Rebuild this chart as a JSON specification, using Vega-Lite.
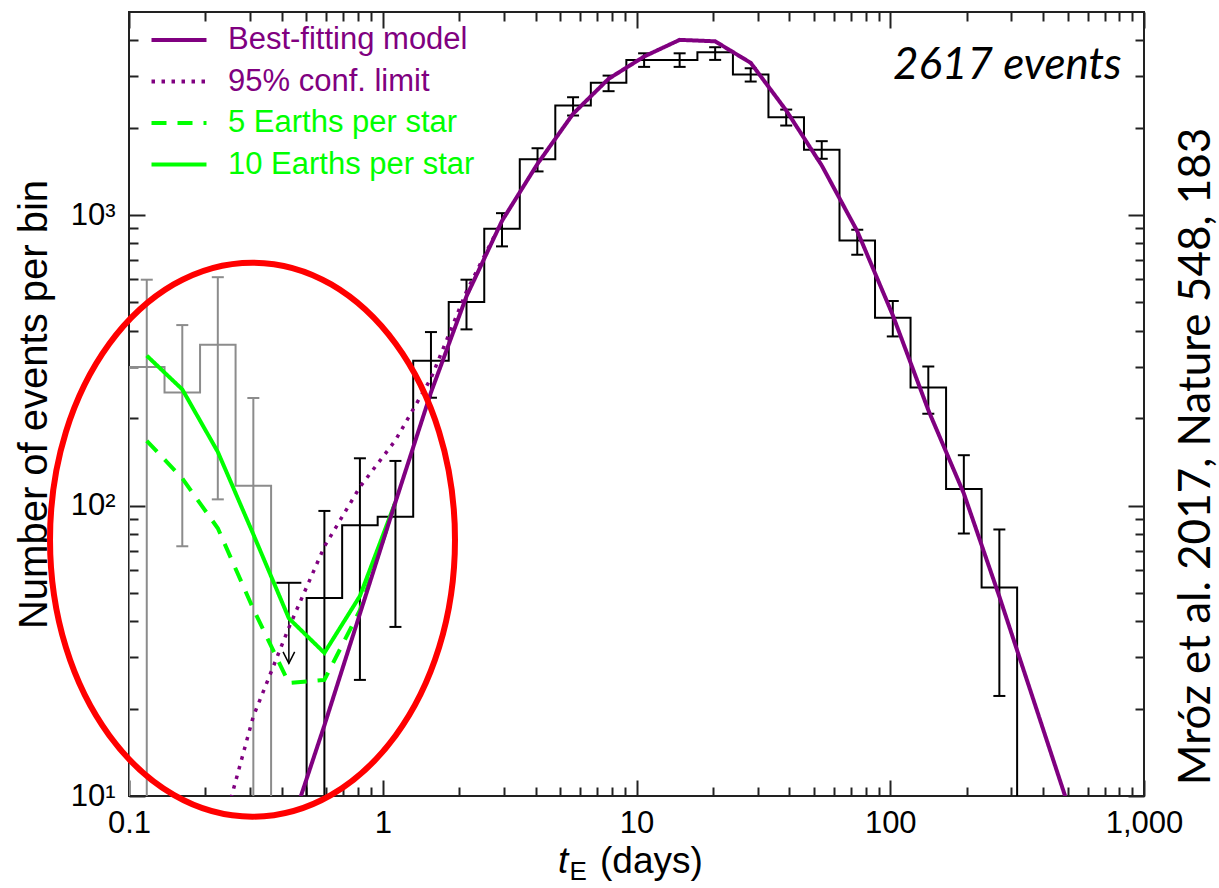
{
  "$schema": "https://vega.github.io/schema/vega-lite/v6.json",
  "width": 1015,
  "height": 784,
  "autosize": {"type": "none"},
  "padding": {"left": 129, "top": 12, "right": 75, "bottom": 92},
  "background": "white",
  "config": {
    "font": "Liberation Sans",
    "view": {"stroke": "#222222", "strokeWidth": 2},
    "axis": {"grid": false, "domain": false, "tickColor": "#222222", "tickWidth": 2, "labelColor": "#000000", "titleColor": "#000000", "labelFont": "Liberation Sans", "titleFont": "Liberation Sans", "titleFontWeight": "normal"},
    "legend": {"orient": "top-left", "title": null, "offset": 12, "padding": 0, "symbolOffset": 22, "symbolType": "M -2 0 L 2 0", "symbolSize": 756, "symbolStrokeWidth": 4, "labelFontSize": 31, "labelFont": "Liberation Sans", "labelOffset": 33, "labelLimit": 400, "rowPadding": 10.5}
  },
  "datasets": {
    "hist_gray": [
      {"t": 0.1, "n": 1}, {"t": 0.1, "n": 300}, {"t": 0.13804, "n": 245}, {"t": 0.19055, "n": 358}, {"t": 0.26303, "n": 117}, {"t": 0.36308, "n": 1}
    ],
    "hist_black": [
      {"t": 0.50119, "n": 1}, {"t": 0.50119, "n": 48}, {"t": 0.69183, "n": 85.5}, {"t": 0.95499, "n": 91.4}, {"t": 1.31826, "n": 315},
      {"t": 1.8197, "n": 502}, {"t": 2.51189, "n": 897}, {"t": 3.46737, "n": 1557}, {"t": 4.7863, "n": 2383}, {"t": 6.60693, "n": 2851},
      {"t": 9.12011, "n": 3420}, {"t": 12.5893, "n": 3420}, {"t": 17.378, "n": 3634}, {"t": 23.9883, "n": 3046}, {"t": 33.1131, "n": 2172},
      {"t": 45.7088, "n": 1677}, {"t": 63.0957, "n": 818}, {"t": 87.0964, "n": 443}, {"t": 120.226, "n": 255}, {"t": 165.959, "n": 114},
      {"t": 229.087, "n": 52.2}, {"t": 316.228, "n": 1}
    ],
    "err": [
      {"t": 0.11749, "lo": 1, "hi": 599, "g": "gray"},
      {"t": 0.16218, "lo": 72.4, "hi": 418, "g": "gray"},
      {"t": 0.22387, "lo": 105, "hi": 611, "g": "gray"},
      {"t": 0.30903, "lo": 1, "hi": 234.5, "g": "gray"},
      {"t": 0.58884, "lo": 1, "hi": 95.8, "g": "black"},
      {"t": 0.81283, "lo": 25.1, "hi": 145.4, "g": "black"},
      {"t": 1.12202, "lo": 38.2, "hi": 142.4, "g": "black"},
      {"t": 1.54882, "lo": 235, "hi": 395.5, "g": "black"},
      {"t": 2.13796, "lo": 404, "hi": 599, "g": "black"},
      {"t": 2.95121, "lo": 780, "hi": 1015, "g": "black"},
      {"t": 4.0738, "lo": 1413, "hi": 1698, "g": "black"},
      {"t": 5.62341, "lo": 2201, "hi": 2544, "g": "black"},
      {"t": 7.76247, "lo": 2669, "hi": 3020, "g": "black"},
      {"t": 10.7152, "lo": 3236, "hi": 3604, "g": "black"},
      {"t": 14.7911, "lo": 3236, "hi": 3604, "g": "black"},
      {"t": 20.4174, "lo": 3420, "hi": 3782, "g": "black"},
      {"t": 28.1838, "lo": 2881, "hi": 3201, "g": "black"},
      {"t": 38.9045, "lo": 2033, "hi": 2307, "g": "black"},
      {"t": 53.7032, "lo": 1562, "hi": 1796, "g": "black"},
      {"t": 74.131, "lo": 730, "hi": 890, "g": "black"},
      {"t": 102.329, "lo": 382, "hi": 506, "g": "black"},
      {"t": 141.254, "lo": 207, "hi": 301, "g": "black"},
      {"t": 194.984, "lo": 80.1, "hi": 149, "g": "black"},
      {"t": 269.153, "lo": 22.1, "hi": 82.7, "g": "black"}
    ],
    "upper": [{"t": 0.42658, "n": 54.2, "tip": 28.6}],
    "model": [
      {"s": "Best-fitting model", "t": 0.42658, "n": 7.5},
      {"s": "Best-fitting model", "t": 0.58884, "n": 17.5},
      {"s": "Best-fitting model", "t": 0.81283, "n": 42.4},
      {"s": "Best-fitting model", "t": 1.12202, "n": 102.7},
      {"s": "Best-fitting model", "t": 1.54882, "n": 245},
      {"s": "Best-fitting model", "t": 2.13796, "n": 525},
      {"s": "Best-fitting model", "t": 2.95121, "n": 955},
      {"s": "Best-fitting model", "t": 4.0738, "n": 1501},
      {"s": "Best-fitting model", "t": 5.62341, "n": 2231},
      {"s": "Best-fitting model", "t": 7.76247, "n": 2944},
      {"s": "Best-fitting model", "t": 10.7152, "n": 3513},
      {"s": "Best-fitting model", "t": 14.7911, "n": 4009},
      {"s": "Best-fitting model", "t": 20.4174, "n": 3963},
      {"s": "Best-fitting model", "t": 28.1838, "n": 3342},
      {"s": "Best-fitting model", "t": 38.9045, "n": 2291},
      {"s": "Best-fitting model", "t": 53.7032, "n": 1482},
      {"s": "Best-fitting model", "t": 74.131, "n": 880},
      {"s": "Best-fitting model", "t": 102.329, "n": 452},
      {"s": "Best-fitting model", "t": 141.254, "n": 213},
      {"s": "Best-fitting model", "t": 194.984, "n": 110},
      {"s": "Best-fitting model", "t": 269.153, "n": 48.6},
      {"s": "Best-fitting model", "t": 371.535, "n": 20.7},
      {"s": "Best-fitting model", "t": 512.861, "n": 8.8},
      {"s": "95% conf. limit", "t": 0.22387, "n": 6.7},
      {"s": "95% conf. limit", "t": 0.30903, "n": 18.8},
      {"s": "95% conf. limit", "t": 0.42658, "n": 38},
      {"s": "95% conf. limit", "t": 0.58884, "n": 72.2},
      {"s": "95% conf. limit", "t": 0.81283, "n": 115.8},
      {"s": "95% conf. limit", "t": 1.12202, "n": 167.7},
      {"s": "95% conf. limit", "t": 1.54882, "n": 274},
      {"s": "95% conf. limit", "t": 2.13796, "n": 546},
      {"s": "95% conf. limit", "t": 2.95121, "n": 955},
      {"s": "5 Earths per star", "t": 0.11749, "n": 167},
      {"s": "5 Earths per star", "t": 0.16218, "n": 124},
      {"s": "5 Earths per star", "t": 0.22387, "n": 83.5},
      {"s": "5 Earths per star", "t": 0.30903, "n": 44},
      {"s": "5 Earths per star", "t": 0.42658, "n": 24.5},
      {"s": "5 Earths per star", "t": 0.58884, "n": 25.1},
      {"s": "5 Earths per star", "t": 0.81283, "n": 43.6},
      {"s": "5 Earths per star", "t": 1.12202, "n": 102.7},
      {"s": "10 Earths per star", "t": 0.11749, "n": 328},
      {"s": "10 Earths per star", "t": 0.16218, "n": 251},
      {"s": "10 Earths per star", "t": 0.22387, "n": 153},
      {"s": "10 Earths per star", "t": 0.30903, "n": 79.6},
      {"s": "10 Earths per star", "t": 0.42658, "n": 40.9},
      {"s": "10 Earths per star", "t": 0.58884, "n": 31.1},
      {"s": "10 Earths per star", "t": 0.81283, "n": 48.8},
      {"s": "10 Earths per star", "t": 1.12202, "n": 102.7}
    ]
  },
  "resolve": {"axis": {"x": "independent", "y": "independent"}},
  "layer": [
    {
      "data": {"name": "hist_gray"},
      "mark": {"type": "line", "interpolate": "step-after", "color": "#8c8c8c", "strokeWidth": 2, "clip": true},
      "encoding": {
        "x": {"field": "t", "type": "quantitative", "scale": {"type": "log", "domain": [0.1, 1000], "nice": false},
          "axis": {"orient": "bottom", "values": [0.1, 1, 10, 100, 1000], "format": ",~g", "ticks": false, "tickSize": 0, "labelFontSize": 31, "labelPadding": 12, "labelFlush": false, "labelOverlap": false, "title": null}},
        "y": {"field": "n", "type": "quantitative", "scale": {"type": "log", "domain": [10, 5000], "nice": false},
          "axis": {"orient": "left", "values": [10, 100, 1000], "labelExpr": "datum.value < 50 ? '10¹' : datum.value < 500 ? '10²' : '10³'", "ticks": false, "tickSize": 0, "labelFontSize": 31, "labelPadding": 14, "labelFlush": false, "labelOverlap": false, "title": "Number of events per bin", "titleFontSize": 40, "titlePadding": 16}}
      }
    },
    {
      "data": {"name": "hist_black"},
      "mark": {"type": "line", "interpolate": "step-after", "color": "#000000", "strokeWidth": 2, "clip": true},
      "encoding": {
        "x": {"field": "t", "type": "quantitative", "scale": {"type": "log", "domain": [0.1, 1000], "nice": false},
          "axis": {"orient": "bottom", "values": [0.1, 1, 10, 100, 1000], "labels": false, "tickSize": -16, "title": null}},
        "y": {"field": "n", "type": "quantitative", "scale": {"type": "log", "domain": [10, 5000], "nice": false},
          "axis": {"orient": "left", "values": [10, 100, 1000], "labels": false, "tickSize": -16, "title": null}}
      }
    },
    {
      "data": {"name": "err"},
      "mark": {"type": "rule", "strokeWidth": 2, "clip": true},
      "encoding": {
        "x": {"field": "t", "type": "quantitative", "scale": {"type": "log", "domain": [0.1, 1000], "nice": false},
          "axis": {"orient": "bottom", "values": [0.2, 0.3, 0.4, 0.5, 0.6, 0.7, 0.8, 0.9, 2, 3, 4, 5, 6, 7, 8, 9, 20, 30, 40, 50, 60, 70, 80, 90, 200, 300, 400, 500, 600, 700, 800, 900], "labels": false, "tickSize": -9, "title": null}},
        "y": {"field": "lo", "type": "quantitative", "scale": {"type": "log", "domain": [10, 5000], "nice": false},
          "axis": {"orient": "left", "values": [20, 30, 40, 50, 60, 70, 80, 90, 200, 300, 400, 500, 600, 700, 800, 900, 2000, 3000, 4000], "labels": false, "tickSize": -9, "title": null}},
        "y2": {"field": "hi"},
        "stroke": {"field": "g", "type": "nominal", "scale": {"domain": ["gray", "black"], "range": ["#8c8c8c", "#000000"]}, "legend": null}
      }
    },
    {
      "data": {"name": "err"},
      "mark": {"type": "point", "shape": "stroke", "size": 144, "strokeWidth": 2, "filled": false, "opacity": 1, "clip": true},
      "encoding": {
        "x": {"field": "t", "type": "quantitative", "scale": {"type": "log", "domain": [0.1, 1000], "nice": false},
          "axis": {"orient": "top", "values": [0.1, 1, 10, 100, 1000], "labels": false, "tickSize": -16, "title": null}},
        "y": {"field": "hi", "type": "quantitative", "scale": {"type": "log", "domain": [10, 5000], "nice": false},
          "axis": {"orient": "right", "values": [10, 100, 1000], "labels": false, "tickSize": -16, "title": "Mróz et al. 2017, Nature 548, 183", "titleFont": "Lato", "titleFontSize": 44, "titleAngle": 270, "titleBaseline": "top", "titlePadding": 29, "titleY": 444}},
        "stroke": {"field": "g", "type": "nominal", "scale": {"domain": ["gray", "black"], "range": ["#8c8c8c", "#000000"]}, "legend": null}
      }
    },
    {
      "data": {"name": "err"},
      "mark": {"type": "point", "shape": "stroke", "size": 144, "strokeWidth": 2, "filled": false, "opacity": 1, "clip": true},
      "encoding": {
        "x": {"field": "t", "type": "quantitative", "scale": {"type": "log", "domain": [0.1, 1000], "nice": false},
          "axis": {"orient": "top", "values": [0.2, 0.3, 0.4, 0.5, 0.6, 0.7, 0.8, 0.9, 2, 3, 4, 5, 6, 7, 8, 9, 20, 30, 40, 50, 60, 70, 80, 90, 200, 300, 400, 500, 600, 700, 800, 900], "labels": false, "tickSize": -9, "title": null}},
        "y": {"field": "lo", "type": "quantitative", "scale": {"type": "log", "domain": [10, 5000], "nice": false},
          "axis": {"orient": "right", "values": [20, 30, 40, 50, 60, 70, 80, 90, 200, 300, 400, 500, 600, 700, 800, 900, 2000, 3000, 4000], "labels": false, "tickSize": -9, "title": null}},
        "stroke": {"field": "g", "type": "nominal", "scale": {"domain": ["gray", "black"], "range": ["#8c8c8c", "#000000"]}, "legend": null}
      }
    },
    {
      "data": {"name": "upper"},
      "mark": {"type": "point", "shape": "stroke", "size": 625, "strokeWidth": 2, "filled": false, "opacity": 1, "color": "#000000"},
      "encoding": {
        "x": {"field": "t", "type": "quantitative", "scale": {"type": "log", "domain": [0.1, 1000], "nice": false}, "axis": null},
        "y": {"field": "n", "type": "quantitative", "scale": {"type": "log", "domain": [10, 5000], "nice": false}, "axis": null}
      }
    },
    {
      "data": {"name": "upper"},
      "mark": {"type": "rule", "strokeWidth": 1.5, "color": "#000000"},
      "encoding": {
        "x": {"field": "t", "type": "quantitative", "scale": {"type": "log", "domain": [0.1, 1000], "nice": false}, "axis": null},
        "y": {"field": "n", "type": "quantitative", "scale": {"type": "log", "domain": [10, 5000], "nice": false}, "axis": null},
        "y2": {"field": "tip"}
      }
    },
    {
      "data": {"name": "upper"},
      "mark": {"type": "point", "shape": "M -1 -2 L 0 0 L 1 -2", "size": 135, "strokeWidth": 1.5, "filled": false, "opacity": 1, "color": "#000000"},
      "encoding": {
        "x": {"field": "t", "type": "quantitative", "scale": {"type": "log", "domain": [0.1, 1000], "nice": false}, "axis": null},
        "y": {"field": "tip", "type": "quantitative", "scale": {"type": "log", "domain": [10, 5000], "nice": false}, "axis": null}
      }
    },
    {
      "data": {"name": "model"},
      "transform": [{"filter": "datum.s == '95% conf. limit'"}],
      "mark": {"type": "line", "strokeWidth": 3.5, "clip": true},
      "encoding": {
        "x": {"field": "t", "type": "quantitative", "scale": {"type": "log", "domain": [0.1, 1000], "nice": false}, "axis": null},
        "y": {"field": "n", "type": "quantitative", "scale": {"type": "log", "domain": [10, 5000], "nice": false}, "axis": null},
        "color": {"field": "s", "type": "nominal", "scale": {"domain": ["Best-fitting model", "95% conf. limit", "5 Earths per star", "10 Earths per star"], "range": ["#800080", "#800080", "#00ff00", "#00ff00"]},
          "legend": {"labelColor": {"expr": "indexof(datum.label, 'Earths') >= 0 ? '#00ff00' : '#800080'"}}},
        "strokeDash": {"field": "s", "type": "nominal", "scale": {"domain": ["Best-fitting model", "95% conf. limit", "5 Earths per star", "10 Earths per star"], "range": [[1, 0], [3.5, 6.5], [15, 11], [1, 0]]},
          "legend": {"labelColor": {"expr": "indexof(datum.label, 'Earths') >= 0 ? '#00ff00' : '#800080'"}}}
      }
    },
    {
      "data": {"name": "model"},
      "transform": [{"filter": "datum.s == '5 Earths per star' || datum.s == '10 Earths per star'"}],
      "mark": {"type": "line", "strokeWidth": 4, "clip": true},
      "encoding": {
        "x": {"field": "t", "type": "quantitative", "scale": {"type": "log", "domain": [0.1, 1000], "nice": false}, "axis": null},
        "y": {"field": "n", "type": "quantitative", "scale": {"type": "log", "domain": [10, 5000], "nice": false}, "axis": null},
        "color": {"field": "s", "type": "nominal", "scale": {"domain": ["Best-fitting model", "95% conf. limit", "5 Earths per star", "10 Earths per star"], "range": ["#800080", "#800080", "#00ff00", "#00ff00"]},
          "legend": {"labelColor": {"expr": "indexof(datum.label, 'Earths') >= 0 ? '#00ff00' : '#800080'"}}},
        "strokeDash": {"field": "s", "type": "nominal", "scale": {"domain": ["Best-fitting model", "95% conf. limit", "5 Earths per star", "10 Earths per star"], "range": [[1, 0], [3.5, 6.5], [15, 11], [1, 0]]},
          "legend": {"labelColor": {"expr": "indexof(datum.label, 'Earths') >= 0 ? '#00ff00' : '#800080'"}}}
      }
    },
    {
      "data": {"name": "model"},
      "transform": [{"filter": "datum.s == 'Best-fitting model'"}],
      "mark": {"type": "line", "strokeWidth": 4, "clip": true},
      "encoding": {
        "x": {"field": "t", "type": "quantitative", "scale": {"type": "log", "domain": [0.1, 1000], "nice": false}, "axis": null},
        "y": {"field": "n", "type": "quantitative", "scale": {"type": "log", "domain": [10, 5000], "nice": false}, "axis": null},
        "color": {"field": "s", "type": "nominal", "scale": {"domain": ["Best-fitting model", "95% conf. limit", "5 Earths per star", "10 Earths per star"], "range": ["#800080", "#800080", "#00ff00", "#00ff00"]},
          "legend": {"labelColor": {"expr": "indexof(datum.label, 'Earths') >= 0 ? '#00ff00' : '#800080'"}}},
        "strokeDash": {"field": "s", "type": "nominal", "scale": {"domain": ["Best-fitting model", "95% conf. limit", "5 Earths per star", "10 Earths per star"], "range": [[1, 0], [3.5, 6.5], [15, 11], [1, 0]]},
          "legend": {"labelColor": {"expr": "indexof(datum.label, 'Earths') >= 0 ? '#00ff00' : '#800080'"}}}
      }
    },
    {
      "data": {"values": [{"label": "2617 events"}]},
      "mark": {"type": "text", "font": "Lato", "fontStyle": "italic", "fontSize": 44, "align": "right", "baseline": "alphabetic", "color": "#000000"},
      "encoding": {
        "x": {"datum": 817, "type": "quantitative", "scale": {"type": "log", "domain": [0.1, 1000], "nice": false}, "axis": null},
        "y": {"datum": 2944, "type": "quantitative", "scale": {"type": "log", "domain": [10, 5000], "nice": false}, "axis": null},
        "text": {"field": "label"}
      }
    },
    {
      "data": {"values": [{"label": "t"}]},
      "mark": {"type": "text", "font": "Liberation Sans", "fontStyle": "italic", "fontSize": 37, "align": "left", "baseline": "alphabetic", "color": "#000000"},
      "encoding": {
        "x": {"datum": 4.9, "type": "quantitative", "scale": {"type": "log", "domain": [0.1, 1000], "nice": false}, "axis": null},
        "y": {"datum": 5.43, "type": "quantitative", "scale": {"type": "log", "domain": [10, 5000], "nice": false}, "axis": null},
        "text": {"field": "label"}
      }
    },
    {
      "data": {"values": [{"label": "E"}]},
      "mark": {"type": "text", "font": "Liberation Sans", "fontSize": 26, "align": "left", "baseline": "alphabetic", "color": "#000000"},
      "encoding": {
        "x": {"datum": 5.45, "type": "quantitative", "scale": {"type": "log", "domain": [0.1, 1000], "nice": false}, "axis": null},
        "y": {"datum": 5.14, "type": "quantitative", "scale": {"type": "log", "domain": [10, 5000], "nice": false}, "axis": null},
        "text": {"field": "label"}
      }
    },
    {
      "data": {"values": [{"label": "(days)"}]},
      "mark": {"type": "text", "font": "Liberation Sans", "fontSize": 37, "align": "left", "baseline": "alphabetic", "color": "#000000"},
      "encoding": {
        "x": {"datum": 7.18, "type": "quantitative", "scale": {"type": "log", "domain": [0.1, 1000], "nice": false}, "axis": null},
        "y": {"datum": 5.42, "type": "quantitative", "scale": {"type": "log", "domain": [10, 5000], "nice": false}, "axis": null},
        "text": {"field": "label"}
      }
    },
    {
      "data": {"values": [{"label": "highlight"}]},
      "mark": {"type": "point", "shape": "M -0.731 0 A 0.731 1 0 1 0 0.731 0 A 0.731 1 0 1 0 -0.731 0 Z", "size": 306916, "filled": false, "stroke": "#ff0000", "strokeWidth": 6, "opacity": 1},
      "encoding": {
        "x": {"datum": 0.3067, "type": "quantitative", "scale": {"type": "log", "domain": [0.1, 1000], "nice": false}, "axis": null},
        "y": {"datum": 76.3, "type": "quantitative", "scale": {"type": "log", "domain": [10, 5000], "nice": false}, "axis": null}
      }
    }
  ]
}
